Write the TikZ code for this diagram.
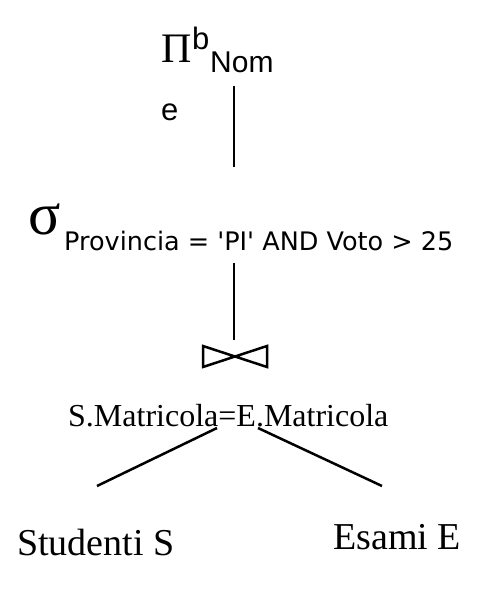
\documentclass[tikz,border=0pt]{standalone}
\usepackage{fontspec}
\setmainfont{Liberation Serif}
\newfontfamily\sansf{Liberation Sans}
\newfontfamily\condf[Ligatures=ResetAll]{DejaVu Sans}
\usetikzlibrary{positioning}
\tikzset{
  lbl/.style={inner sep=0pt, anchor=base west},
  edge/.style={line width=2.5pt},
  bowtie/.style={line width=2.5pt, line join=miter}
}
\begin{document}
\begin{tikzpicture}[x=1pt,y=-1pt]
\useasboundingbox (0,0) rectangle (488,594);
% the operators
\node[lbl,font=\fontsize{42}{42}\selectfont] at (161,63) (proj) {Π};
\node[lbl,font=\sansf\fontsize{31}{31}\selectfont] at (192,50) (projb) {b};
\node[lbl,font=\sansf\fontsize{30}{30}\selectfont] at (210,73) (projattr) {Nom};
\node[lbl,font=\sansf\fontsize{31}{31}\selectfont] at (161,120) (proje) {e};
\node[lbl,font=\fontsize{60}{60}\selectfont] at (28,234) (sel) {σ};
\node[lbl,font=\condf\fontsize{25.5}{25.5}\selectfont] at (64,250) (selcond)
  {Provincia = 'PI' AND Voto > 25};
\node[lbl,font=\fontsize{32}{32}\selectfont] at (68,426) (joincond)
  {S.Matricola=E.Matricola};
\node[lbl,font=\fontsize{38}{38}\selectfont] at (17,555) (stud) {Studenti S};
\node[lbl,font=\fontsize{38}{38}\selectfont] at (333,549) (esami) {Esami E};
% the join symbol
\draw[bowtie] (203,346) -- (203,367) -- (267,346) -- (267,367) -- cycle;
\path
  (234,86) coordinate (proj-foot)
  (234,167) coordinate (sel-top)
  (234,263) coordinate (sel-foot)
  (234,340) coordinate (join-top)
  (217,428) coordinate (join-left)
  (258,428) coordinate (join-right)
  (97,486) coordinate (stud-top)
  (382,486) coordinate (esami-top);
% the edges
\draw[edge] (proj-foot) -- (sel-top);
\draw[edge] (sel-foot) -- (join-top);
\draw[edge] (join-left) -- (stud-top);
\draw[edge] (join-right) -- (esami-top);
\end{tikzpicture}
\end{document}
